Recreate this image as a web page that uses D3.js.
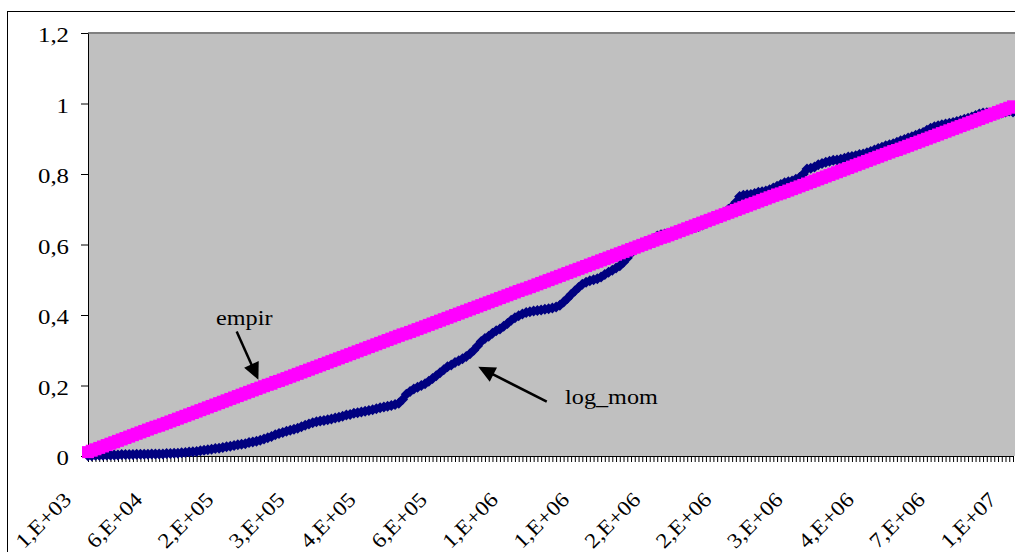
<!DOCTYPE html>
<html><head><meta charset="utf-8">
<script src="https://cdn.jsdelivr.net/npm/d3@7"></script>
<style>html,body{margin:0;padding:0;background:#fff;overflow:hidden;} svg{display:block;}</style>
</head><body>
<svg id="c" width="1015" height="552"></svg>
<script>
// empirical distribution (magenta squares)
const empir = [
.011,.015,.019,.023,.027,.031,.035,.039,.043,.047,
.051,.055,.059,.063,.067,.071,.075,.079,.083,.086,
.090,.094,.098,.102,.106,.110,.114,.118,.122,.126,
.130,.134,.138,.142,.146,.150,.154,.158,.162,.166,
.170,.174,.178,.182,.186,.190,.194,.198,.202,.205,
.210,.213,.217,.221,.225,.229,.233,.237,.241,.245,
.249,.253,.257,.261,.265,.269,.273,.277,.281,.285,
.289,.293,.297,.301,.305,.309,.313,.317,.321,.325,
.329,.333,.337,.341,.345,.348,.352,.356,.360,.364,
.368,.372,.376,.380,.384,.388,.392,.396,.400,.404,
.408,.412,.416,.420,.424,.428,.432,.436,.440,.444,
.448,.452,.456,.460,.464,.468,.472,.475,.479,.483,
.487,.491,.495,.499,.503,.507,.511,.515,.519,.523,
.527,.531,.535,.539,.543,.547,.551,.555,.559,.563,
.567,.571,.575,.579,.583,.587,.591,.595,.599,.603,
.607,.611,.615,.619,.622,.626,.630,.634,.638,.642,
.646,.650,.654,.658,.662,.666,.670,.674,.678,.682,
.686,.690,.694,.698,.702,.706,.710,.714,.718,.722,
.726,.730,.734,.738,.742,.745,.749,.753,.757,.761,
.765,.769,.773,.777,.781,.785,.789,.793,.797,.801,
.805,.809,.813,.817,.821,.825,.829,.833,.837,.841,
.845,.849,.853,.857,.861,.865,.868,.872,.876,.880,
.884,.888,.892,.896,.900,.904,.908,.912,.916,.920,
.924,.928,.932,.936,.940,.944,.948,.952,.956,.960,
.964,.968,.972,.976,.980,.984,.988,.992
];
// fitted log-moment distribution (navy diamonds)
const logMom = [
.001,.001,.002,.002,.002,.003,.003,.003,.003,.004,
.004,.004,.004,.005,.005,.005,.005,.006,.006,.006,
.006,.007,.007,.008,.008,.009,.010,.011,.012,.013,
.015,.016,.018,.019,.021,.022,.024,.026,.028,.030,
.032,.033,.035,.038,.040,.042,.045,.048,.052,.055,
.060,.064,.067,.070,.073,.076,.079,.083,.087,.091,
.094,.097,.099,.101,.103,.105,.108,.110,.113,.116,
.118,.121,.123,.125,.127,.129,.131,.134,.137,.139,
.141,.143,.146,.150,.160,.175,.183,.190,.195,.200,
.205,.212,.220,.228,.236,.245,.253,.258,.265,.270,
.276,.282,.290,.300,.312,.325,.333,.340,.348,.355,
.360,.368,.376,.385,.392,.398,.403,.407,.409,.411,
.413,.414,.416,.418,.420,.423,.428,.437,.447,.458,
.468,.478,.487,.493,.497,.500,.503,.508,.515,.521,
.527,.533,.540,.550,.562,.575,.587,.596,.600,.604,
.610,.616,.624,.628,.630,.632,.634,.637,.640,.644,
.645,.646,.648,.651,.655,.660,.666,.671,.676,.682,
.690,.700,.708,.720,.736,.740,.741,.742,.745,.748,
.750,.752,.755,.760,.765,.770,.775,.778,.780,.785,
.790,.800,.814,.816,.820,.826,.830,.833,.836,.839,
.840,.842,.845,.848,.850,.852,.855,.857,.860,.864,
.868,.872,.876,.880,.883,.886,.890,.894,.898,.902,
.906,.910,.914,.918,.924,.930,.934,.937,.940,.942,
.944,.946,.949,.952,.955,.958,.962,.966,.970,.973,
.974,.972,.968,.970,.973,.976,.979,.976
];
const tickLabels = ["1,E+03","6,E+04","2,E+05","3,E+05","4,E+05","6,E+05","1,E+06","1,E+06","2,E+06","2,E+06","3,E+06","4,E+06","7,E+06","1,E+07"];
const labelStep = 19;
const yTicks = [0, 0.2, 0.4, 0.6, 0.8, 1, 1.2];
const annotations = [
  {text: "empir",   tx: 34.2,  ty: 0.372, x1: 39.7,  y1: 0.353, x2: 45.5,  y2: 0.216},
  {text: "log_mom", tx: 127.4, ty: 0.148, x1: 122.5, y1: 0.154, x2: 104.2, y2: 0.253}
];

const FONT = "'Liberation Serif','Times New Roman',serif";
const svg = d3.select("#c");
const L = 88, R = 1013, T = 33, B = 456;
const cats = d3.range(empir.length);
const x = d3.scaleLinear().domain([0, cats.length - 1]).range([L, R]);
const y = d3.scaleLinear().domain([0, 1.2]).range([B, T]);

// chart area border
svg.append("rect").attr("x", 7.5).attr("y", 11.5).attr("width", 1100).attr("height", 700)
  .attr("fill", "#fff").attr("stroke", "#000").attr("stroke-width", 1);
// plot area
svg.append("rect").attr("x", L).attr("y", T).attr("width", 1100 - L).attr("height", B - T)
  .attr("fill", "#c0c0c0");
svg.append("line").attr("x1", L).attr("x2", 1100).attr("y1", T).attr("y2", T)
  .attr("stroke", "#808080").attr("stroke-width", 2);

// y axis
const yAxis = svg.append("g").attr("transform", `translate(${L},0)`)
  .call(d3.axisLeft(y).tickValues(yTicks).tickSize(7).tickSizeOuter(0).tickPadding(12)
    .tickFormat(d => String(d).replace(".", ",")));
yAxis.selectAll("text").attr("font-family", FONT).attr("font-size", 21).attr("fill", "#000")
  .attr("x", 0).attr("dy", "0.42em").attr("transform", "translate(-19,0) scale(1.18,1)");
yAxis.selectAll("line,path").attr("stroke", "#000");

// x axis
const xAxis = svg.append("g").attr("transform", `translate(0,${B})`)
  .call(d3.axisBottom(x).tickValues(cats).tickSize(6).tickSizeOuter(0)
    .tickFormat(d => d % labelStep === 0 ? tickLabels[d / labelStep] : ""));
xAxis.selectAll("line,path").attr("stroke", "#000");
xAxis.selectAll("text").attr("font-family", FONT).attr("font-size", 21).attr("fill", "#000")
  .attr("text-anchor", "end").attr("x", 0).attr("y", 0).attr("dy", 0)
  .attr("transform", "translate(-16,45) rotate(-45) scale(1.12,1)");

// series: log_mom (navy) under empir (magenta)
const line = d3.line().x((d, i) => x(i)).y(d => y(d));
svg.append("path").datum(logMom).attr("d", line).attr("fill", "none")
  .attr("stroke", "#000080").attr("stroke-width", 2);
const r = 5.5;
svg.append("g").selectAll("path").data(logMom).join("path")
  .attr("transform", (d, i) => `translate(${x(i)},${y(d)})`)
  .attr("d", `M0,${-r}L${r},0L0,${r}L${-r},0Z`).attr("fill", "#000080");

svg.append("path").datum(empir).attr("d", line).attr("fill", "none")
  .attr("stroke", "#ff00ff").attr("stroke-width", 2);
const s = 12;
svg.append("g").selectAll("rect").data(empir).join("rect")
  .attr("x", (d, i) => x(i) - s / 2).attr("y", d => y(d) - s / 2)
  .attr("width", s).attr("height", s).attr("fill", "#ff00ff");

// annotations
annotations.forEach(a => {
  svg.append("text").attr("x", 0).attr("y", 0).text(a.text)
    .attr("transform", `translate(${x(a.tx)},${y(a.ty)}) scale(1.1,1)`)
    .attr("font-family", FONT).attr("font-size", 22).attr("fill", "#000");
  const sx = x(a.x1), sy = y(a.y1), ex = x(a.x2), ey = y(a.y2);
  const dx = ex - sx, dy = ey - sy, len = Math.hypot(dx, dy);
  const ux = dx / len, uy = dy / len, hl = 17, hw = 8;
  const bx = ex - ux * hl, by = ey - uy * hl;
  svg.append("line").attr("x1", sx).attr("y1", sy).attr("x2", bx + ux * 2).attr("y2", by + uy * 2)
    .attr("stroke", "#000").attr("stroke-width", 2.5);
  svg.append("path").attr("d",
    `M${ex},${ey}L${bx - uy * hw},${by + ux * hw}L${bx + uy * hw},${by - ux * hw}Z`)
    .attr("fill", "#000");
});
</script>
</body></html>
